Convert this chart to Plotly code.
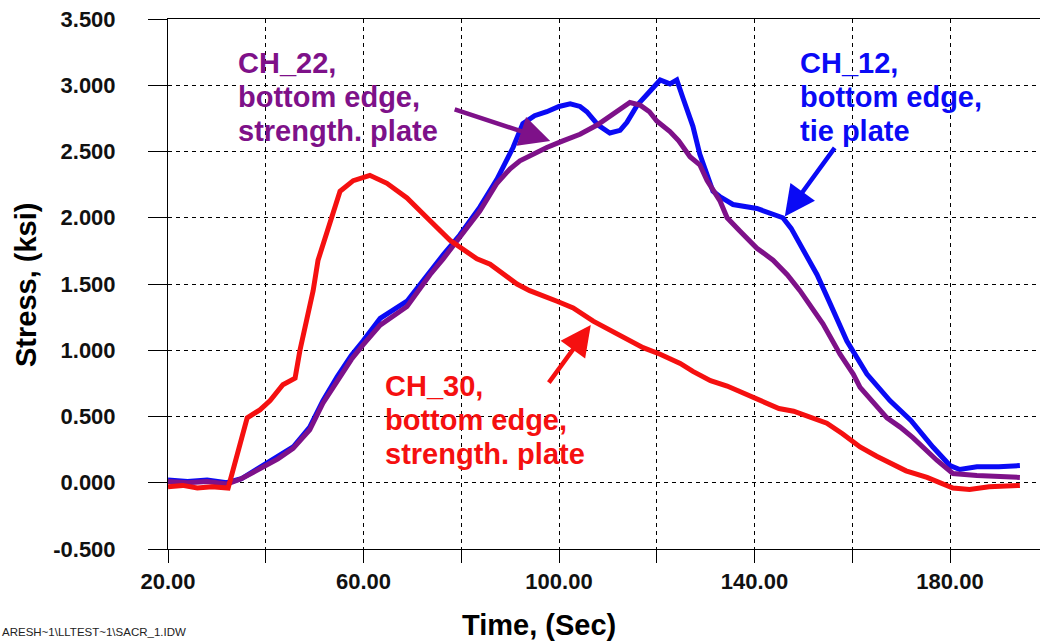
import plotly.graph_objects as go

# Time (s) and stress (ksi) samples for each strain-gauge channel
t_ch12 = [20, 24, 28, 32, 35, 39.4, 42.5, 45.6, 49, 51.7, 54.6, 57.5, 59.9, 63.4, 68.9, 71.0,
          73.6, 76.3, 79.7, 83.8, 87.3, 90.6, 92.6, 95.0, 97.5, 100.0, 102.3, 104.3, 105.7,
          108.0, 110.4, 112.5, 113.9, 116.0, 118.0, 120.7, 122.7, 124.1, 125.4, 126.2, 127.4,
          128.8, 130.3, 131.5, 132.9, 135.6, 140.5, 143.0, 145.8, 147.5, 149.3, 152.8, 155.5,
          158.9, 163.0, 167.7, 172.0, 176.5, 180.0, 182.0, 185.5, 190.0, 194.3]
s_ch12 = [0.02, 0.01, 0.02, 0.00, 0.03, 0.13, 0.19, 0.27, 0.42, 0.62, 0.80, 0.96, 1.07, 1.24, 1.37, 1.47,
          1.60, 1.72, 1.87, 2.08, 2.29, 2.53, 2.71, 2.77, 2.80, 2.84, 2.86, 2.84, 2.80,
          2.70, 2.64, 2.66, 2.72, 2.85, 2.93, 3.04, 3.01, 3.04, 2.90, 2.81, 2.69,
          2.48, 2.33, 2.20, 2.16, 2.10, 2.07, 2.04, 2.00, 1.92, 1.80, 1.57, 1.35,
          1.07, 0.82, 0.62, 0.47, 0.27, 0.13, 0.10, 0.12, 0.12, 0.13]

t_ch22 = [20, 24, 28, 32, 35, 39.4, 42.5, 45.6, 49, 51.7, 54.6, 57.5, 59.9, 63.4, 68.9, 71.0,
          73.6, 76.3, 79.7, 83.8, 87.3, 90.0, 92.0, 95.0, 97.5, 100.8, 104.3, 107.8, 111.0,
          114.5, 116.6, 118.5, 120.0, 122.7, 124.5, 126.8, 128.8, 130.3, 132.9, 134.4, 137.0,
          140.5, 143.8, 146.7, 149.3, 152.0, 154.0, 157.5, 160.2, 161.6, 164.3, 167.1, 169.8,
          172.4, 177.3, 180.6, 185.5, 190.0, 194.3]
s_ch22 = [0.01, 0.00, 0.01, -0.01, 0.03, 0.12, 0.18, 0.26, 0.40, 0.60, 0.77, 0.93, 1.04, 1.19, 1.33, 1.44,
          1.57, 1.69, 1.85, 2.05, 2.26, 2.37, 2.43, 2.49, 2.53, 2.58, 2.63, 2.70, 2.78,
          2.87, 2.85, 2.80, 2.73, 2.65, 2.58, 2.46, 2.40, 2.28, 2.13, 2.00, 1.90,
          1.77, 1.68, 1.57, 1.45, 1.30, 1.20, 0.97, 0.82, 0.72, 0.60, 0.49, 0.42,
          0.34, 0.17, 0.07, 0.055, 0.05, 0.04]

t_ch30 = [20, 23, 26, 29, 32.3, 34.2, 36.2, 38.8, 40.9, 43.5, 46.0, 47.0, 48.5, 49.7, 50.7,
          53.1, 55.2, 57.9, 61.3, 64.8, 68.9, 73.0, 77.7, 83.2, 85.9, 91.4, 94.0, 99.6,
          102.9, 107.0, 111.9, 117.2, 120.7, 124.8, 127.4, 131.0, 134.4, 139.7, 141.1, 145.0,
          148.0, 151.0, 154.8, 158.0, 161.6, 165.0, 168.3, 171.0, 175.3, 178.0, 180.6, 184.0,
          188.0, 194.3]
s_ch30 = [-0.03, -0.02, -0.04, -0.03, -0.04, 0.22, 0.49, 0.55, 0.62, 0.74, 0.79, 1.00, 1.25, 1.45, 1.68,
          1.95, 2.20, 2.28, 2.32, 2.26, 2.15, 2.00, 1.83, 1.69, 1.65, 1.50, 1.45, 1.37,
          1.32, 1.22, 1.12, 1.02, 0.97, 0.90, 0.84, 0.77, 0.73, 0.65, 0.62, 0.56,
          0.54, 0.50, 0.45, 0.37, 0.27, 0.20, 0.14, 0.09, 0.04, 0.00, -0.04, -0.05,
          -0.03, -0.02]

x_ticks = [20, 40, 60, 80, 100, 120, 140, 160, 180]
x_tick_text = ["20.00", "", "60.00", "", "100.00", "", "140.00", "", "180.00"]
y_ticks = [-0.5, 0.0, 0.5, 1.0, 1.5, 2.0, 2.5, 3.0, 3.5]
y_tick_text = ["-0.500", "0.000", "0.500", "1.000", "1.500", "2.000", "2.500", "3.000", "3.500"]

BLUE = "#0A0AF5"
PURPLE = "#7E1189"
RED = "#F51010"
FONT = "Liberation Sans"

fig = go.Figure()
fig.add_trace(go.Scatter(x=t_ch12, y=s_ch12, mode="lines", line=dict(color=BLUE, width=5)))
fig.add_trace(go.Scatter(x=t_ch22, y=s_ch22, mode="lines", line=dict(color=PURPLE, width=5)))
fig.add_trace(go.Scatter(x=t_ch30, y=s_ch30, mode="lines", line=dict(color=RED, width=5)))

# plot area spans pixels 168..1040 horizontally, 19..549 vertically
L, R, T, B = 168, 1040, 19, 549


def px(x):
    return (x - L) / (R - L)


def py(y):
    return (B - y) / (B - T)


annotations = []


def label_block(lines, left, centers, color):
    for text, yc in zip(lines, centers):
        annotations.append(dict(
            text=text, xref="paper", yref="paper", x=px(left), y=py(yc),
            xanchor="left", yanchor="middle", showarrow=False,
            font=dict(family=FONT, size=29, color=color, weight="bold")))


label_block(["CH_22,", "bottom edge,", "strength. plate"], 236, [63, 97, 131], PURPLE)
label_block(["CH_12,", "bottom edge,", "tie plate"], 798, [63, 97, 131], BLUE)
label_block(["CH_30,", "bottom edge,", "strength. plate"], 383, [386, 420, 454], RED)

# arrows pointing at each trace
for tip_x, tip_y, dx, dy, color in [(98.2, 2.58, -97, -32, PURPLE),
                                     (146.2, 2.01, 51, -70, BLUE),
                                     (106.5, 1.19, -43, 59, RED)]:
    annotations.append(dict(
        x=tip_x, y=tip_y, xref="x", yref="y", ax=dx, ay=dy, axref="pixel", ayref="pixel",
        text="", showarrow=True, arrowhead=2, arrowsize=1.35, arrowwidth=4.5,
        arrowcolor=color))

# axis titles
annotations.append(dict(
    text="Stress, (ksi)", xref="paper", yref="paper", x=px(26), y=py(285),
    xanchor="center", yanchor="middle", textangle=-90, showarrow=False,
    font=dict(family=FONT, size=29, color="black", weight="bold")))
annotations.append(dict(
    text="Time, (Sec)", xref="paper", yref="paper", x=px(539), y=py(625),
    xanchor="center", yanchor="middle", showarrow=False,
    font=dict(family=FONT, size=29, color="black", weight="bold")))
# file path footnote
annotations.append(dict(
    text="ARESH~1\\LLTEST~1\\SACR_1.IDW", xref="paper", yref="paper", x=px(0), y=py(632),
    xanchor="left", yanchor="middle", showarrow=False,
    font=dict(family=FONT, size=11.5, color="#222222")))

axis_common = dict(
    showline=True, linecolor="black", linewidth=1,
    showgrid=True, gridcolor="black", gridwidth=1, griddash="4px,4px",
    zeroline=False, ticks="outside", tickcolor="black", tickwidth=1,
    tickfont=dict(family=FONT, size=22, color="#111111", weight="bold"),
)

fig.update_layout(
    width=1040, height=644,
    margin=dict(l=L, r=1040 - R, t=T, b=644 - B),
    paper_bgcolor="white", plot_bgcolor="white",
    showlegend=False,
    xaxis=dict(range=[20, 20 + (R - L) / 4.8875], tickvals=x_ticks, ticktext=x_tick_text,
               ticklen=13, mirror=True, ticklabelstandoff=0, **axis_common),
    yaxis=dict(range=[-0.5, 3.5], tickvals=y_ticks, ticktext=y_tick_text,
               ticklen=19, ticklabelstandoff=28, **axis_common),
    annotations=annotations,
)

fig.write_html("out.html")
